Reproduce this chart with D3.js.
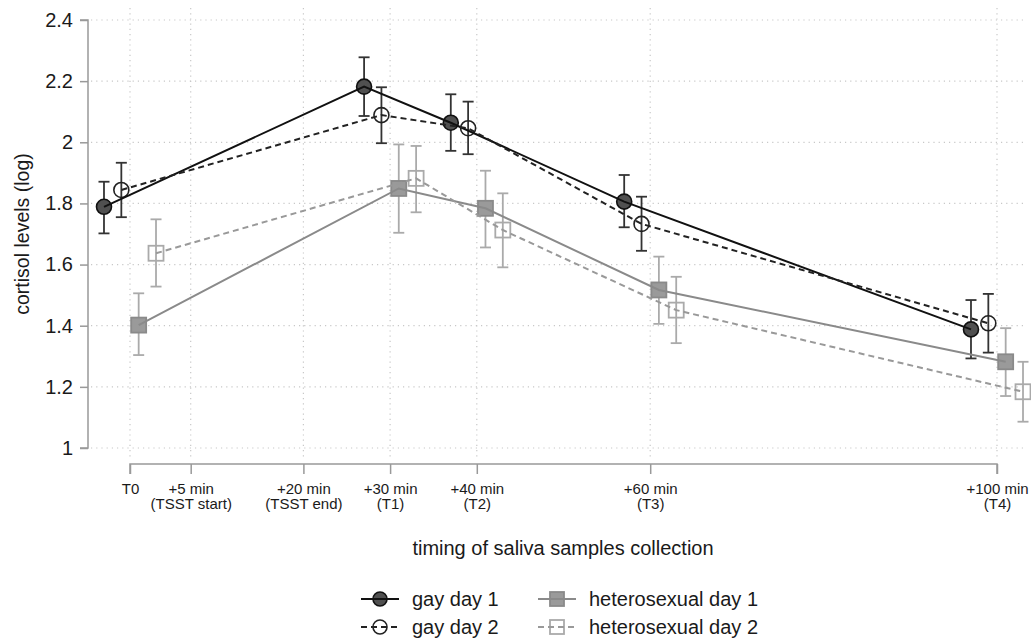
<!DOCTYPE html>
<html>
<head>
<meta charset="utf-8">
<script src="https://cdn.jsdelivr.net/npm/d3@7"></script>
<style>
  html, body { margin: 0; padding: 0; background: #fff; }
  svg { display: block; font-family: "Liberation Sans", Arial, sans-serif; }
</style>
</head>
<body>
<svg id="chart" width="1031" height="640"></svg>
<script>
// ---- data ----
const times = [0, 30, 40, 60, 100];

const gayDay1   = [1.789, 2.182, 2.064, 1.806, 1.388];
const gayDay1Lo = [1.702, 2.086, 1.972, 1.722, 1.293];
const gayDay1Hi = [1.871, 2.278, 2.157, 1.893, 1.484];

const gayDay2   = [1.844, 2.089, 2.046, 1.733, 1.408];
const gayDay2Lo = [1.755, 1.997, 1.961, 1.645, 1.312];
const gayDay2Hi = [1.933, 2.180, 2.133, 1.822, 1.504];

const hetDay1   = [1.402, 1.849, 1.784, 1.517, 1.282];
const hetDay1Lo = [1.304, 1.704, 1.656, 1.406, 1.170];
const hetDay1Hi = [1.506, 1.993, 1.907, 1.626, 1.392];

const hetDay2   = [1.637, 1.882, 1.713, 1.451, 1.184];
const hetDay2Lo = [1.528, 1.771, 1.591, 1.343, 1.086];
const hetDay2Hi = [1.748, 1.988, 1.833, 1.560, 1.282];

const seriesNames = ["gay day 1", "gay day 2", "heterosexual day 1", "heterosexual day 2"];
const dodgeMinutes = [-3, -1, 1, 3];

const yTicks = [1, 1.2, 1.4, 1.6, 1.8, 2, 2.2, 2.4];
const xTickVals = [0, 7, 20, 30, 40, 60, 100];
const xTickLabels = [
  ["T0"],
  ["+5 min", "(TSST start)"],
  ["+20 min", "(TSST end)"],
  ["+30 min", "(T1)"],
  ["+40 min", "(T2)"],
  ["+60 min", "(T3)"],
  ["+100 min", "(T4)"]
];

// ---- styles ----
const styles = [
  { shape: "circle", fill: "#505050", stroke: "#111", line: "#111", dash: null, err: "#333", lw: 2 },
  { shape: "circle", fill: "none", stroke: "#222", line: "#222", dash: "6,4", err: "#333", lw: 2 },
  { shape: "square", fill: "#9a9a9a", stroke: "#8a8a8a", line: "#8a8a8a", dash: null, err: "#aaa", lw: 2 },
  { shape: "square", fill: "none", stroke: "#aaa", line: "#999", dash: "6,4", err: "#aaa", lw: 2 }
];

const series = [
  { name: seriesNames[0], v: gayDay1, lo: gayDay1Lo, hi: gayDay1Hi },
  { name: seriesNames[1], v: gayDay2, lo: gayDay2Lo, hi: gayDay2Hi },
  { name: seriesNames[2], v: hetDay1, lo: hetDay1Lo, hi: hetDay1Hi },
  { name: seriesNames[3], v: hetDay2, lo: hetDay2Lo, hi: hetDay2Hi }
];

const svg = d3.select("#chart");
const x = d3.scaleLinear().domain([0, 100]).range([130, 997]);
const y = d3.scaleLinear().domain([1, 2.4]).range([448, 20]);

const gridColor = "#c8c8c8";
const axisColor = "#999";
const textColor = "#1a1a1a";

// grid
const grid = svg.append("g");
grid.selectAll("line.h").data(yTicks).join("line")
  .attr("x1", 91).attr("x2", 1027)
  .attr("y1", d => y(d)).attr("y2", d => y(d))
  .attr("stroke", gridColor).attr("stroke-width", 1.2).attr("stroke-dasharray", "1.2,4");
grid.selectAll("line.v").data(xTickVals).join("line")
  .attr("x1", d => x(d)).attr("x2", d => x(d))
  .attr("y1", 8).attr("y2", 458)
  .attr("stroke", gridColor).attr("stroke-width", 1.2).attr("stroke-dasharray", "1.2,4");

// y axis
const yAxis = svg.append("g").attr("transform", "translate(88,0)")
  .call(d3.axisLeft(y).tickValues(yTicks).tickSize(8).tickPadding(7).tickFormat(d3.format("~g")));
yAxis.select(".domain").attr("stroke", axisColor).attr("stroke-width", 1.5)
  .attr("d", `M-8,${y(2.4)}H0V${y(1)}H-8`);
yAxis.selectAll(".tick line").attr("stroke", axisColor).attr("stroke-width", 1.5);
yAxis.selectAll(".tick text").attr("fill", textColor).attr("font-size", 20)
  .attr("font-family", "Liberation Sans, Arial, sans-serif");

// x axis
const xAxis = svg.append("g").attr("transform", "translate(0,464)")
  .call(d3.axisBottom(x).tickValues(xTickVals).tickSize(10).tickFormat(""));
xAxis.select(".domain").attr("stroke", axisColor).attr("stroke-width", 1.5)
  .attr("d", `M${x(0)},10V0H${x(100)}V10`);
xAxis.selectAll(".tick line").attr("stroke", axisColor).attr("stroke-width", 1.5);
xAxis.selectAll(".tick").each(function(d, i) {
  const t = d3.select(this).append("text")
    .attr("fill", textColor).attr("font-size", 15)
    .attr("text-anchor", "middle")
    .attr("font-family", "Liberation Sans, Arial, sans-serif");
  xTickLabels[i].forEach((s, k) => {
    t.append("tspan").attr("x", 0).attr("y", 30 + k * 15).text(s);
  });
});

// axis titles
svg.append("text").attr("x", 563).attr("y", 555).attr("text-anchor", "middle")
  .attr("font-size", 20).attr("fill", textColor).text("timing of saliva samples collection");
svg.append("text").attr("transform", `translate(29,${y(1.7)}) rotate(-90)`)
  .attr("text-anchor", "middle")
  .attr("font-size", 19.5).attr("fill", textColor).text("cortisol levels (log)");

// marks
const plot = svg.append("g");
function drawMarker(g, st, cx, cy, size) {
  if (st.shape === "circle") {
    g.append("circle").attr("cx", cx).attr("cy", cy).attr("r", size / 2)
      .attr("fill", st.fill).attr("stroke", st.stroke).attr("stroke-width", 1.6);
  } else {
    g.append("rect").attr("x", cx - size / 2).attr("y", cy - size / 2)
      .attr("width", size).attr("height", size)
      .attr("fill", st.fill).attr("stroke", st.stroke).attr("stroke-width", 1.8);
  }
}

series.forEach((s, si) => {
  const st = styles[si];
  const g = plot.append("g");
  const pts = times.map((t, i) => ({ t: t + dodgeMinutes[si], v: s.v[i], lo: s.lo[i], hi: s.hi[i] }));
  const eb = g.selectAll("g.eb").data(pts).join("g").attr("class", "eb");
  eb.append("line").attr("x1", d => x(d.t)).attr("x2", d => x(d.t))
    .attr("y1", d => y(d.lo)).attr("y2", d => y(d.hi))
    .attr("stroke", st.err).attr("stroke-width", 1.8);
  eb.append("line").attr("x1", d => x(d.t) - 5.5).attr("x2", d => x(d.t) + 5.5)
    .attr("y1", d => y(d.hi)).attr("y2", d => y(d.hi))
    .attr("stroke", st.err).attr("stroke-width", 1.8);
  eb.append("line").attr("x1", d => x(d.t) - 5.5).attr("x2", d => x(d.t) + 5.5)
    .attr("y1", d => y(d.lo)).attr("y2", d => y(d.lo))
    .attr("stroke", st.err).attr("stroke-width", 1.8);
  s.pts = pts;
});

series.forEach((s, si) => {
  const st = styles[si];
  const g = plot.append("g");
  s.pts.forEach(d => drawMarker(g, st, x(d.t), y(d.v), 15));
});

series.forEach((s, si) => {
  const st = styles[si];
  plot.append("path").datum(s.pts)
    .attr("d", d3.line().x(d => x(d.t)).y(d => y(d.v)))
    .attr("fill", "none").attr("stroke", st.line).attr("stroke-width", st.lw)
    .attr("stroke-dasharray", st.dash);
});

// legend
const legendPos = [
  { cx: 380, cy: 599 }, { cx: 380, cy: 627 },
  { cx: 557, cy: 599 }, { cx: 557, cy: 627 }
];
series.forEach((s, si) => {
  const st = styles[si];
  const p = legendPos[si];
  const g = svg.append("g");
  drawMarker(g, st, p.cx, p.cy, 14);
  g.append("line").attr("x1", p.cx - 19).attr("x2", p.cx + 19)
    .attr("y1", p.cy).attr("y2", p.cy)
    .attr("stroke", st.line).attr("stroke-width", st.lw).attr("stroke-dasharray", st.dash);
  g.append("text").attr("x", p.cx + 32).attr("y", p.cy + 7)
    .attr("font-size", 20).attr("fill", textColor).text(s.name);
});
</script>
</body>
</html>
